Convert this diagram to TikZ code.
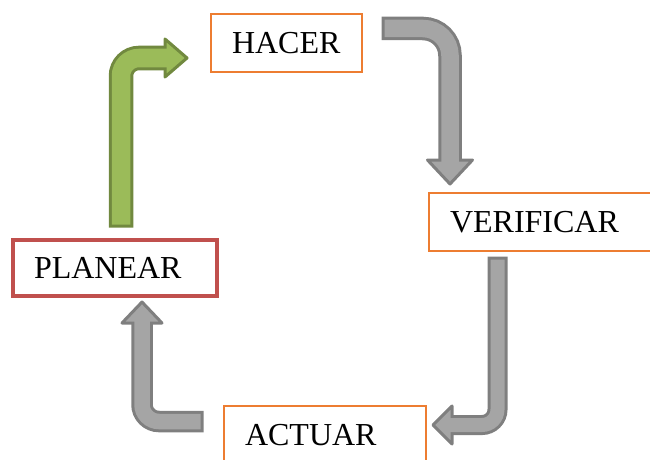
\documentclass[tikz,border=0pt]{standalone}
\usepackage{fontspec}
\setmainfont{Liberation Serif}
\usetikzlibrary{calc}
\definecolor{boxorange}{HTML}{ED7D31}
\definecolor{boxred}{HTML}{C0504D}
\definecolor{arrowfill}{HTML}{A5A5A5}
\definecolor{arrowline}{HTML}{7F7F7F}
\definecolor{greenfill}{HTML}{9BBB59}
\definecolor{greenline}{HTML}{71893F}
\def\bentarrow[#1:#2](#3)(#4)(#5)(#6:#7:#8:#9){%
	\coordinate (cn) at (#4);
	\coordinate (ba) at ($(#5)!#8pt!(cn)$);
	\coordinate (bb) at ($(ba)!2pt!(#5)$);
	\draw[#2, line width=#6pt+3pt, rounded corners=#7pt, shorten <=-1.5pt] (#3) -- (cn) -- (ba);
	\filldraw[fill=#1, draw=#2, line width=3pt, line join=round] ($(ba)!#9pt!90:(#5)$) -- (#5) -- ($(ba)!#9pt!-90:(#5)$) -- cycle;
	\draw[#1, line width=#6pt-3pt, rounded corners=#7pt, shorten <=1.5pt] (#3) -- (cn) -- (bb);
}

\begin{document}
\begin{tikzpicture}[x=1pt, y=-1pt,
	box/.style={draw=boxorange, line width=2pt, fill=white, anchor=north west, outer sep=0pt,
		inner xsep=21pt, inner ysep=0pt, minimum height=58pt, align=left,
		font=\fontsize{32}{38}\selectfont},
	redbox/.style={box, draw=boxred, line width=4pt, minimum height=56pt}]
		%%%%% START %%%%%
		\useasboundingbox (0,0) rectangle (650,460);
		\clip (0,0) rectangle (650,460);
		
		\node[box, text width=109pt] (hacer) at (211, 14) {HACER};
		\node[box, text width=220pt] (verificar) at (429, 193) {VERIFICAR};
		\node[box, text width=160pt] (actuar) at (224, 406) {ACTUAR};
		\node[redbox, text width=162pt] (planear) at (13, 240) {PLANEAR};
		
		\coordinate (g0) at ($(planear.north)+(6,-14)$);
		\coordinate (g2) at ($(hacer.west)+(-24,15)$);
		\coordinate (h0) at ($(hacer.east)+(21,-14.5)$);
		\coordinate (h2) at ($(verificar.north west)+(21,-9)$);
		\coordinate (v0) at ($(verificar.south west)+(68.5,7)$);
		\coordinate (v2) at ($(actuar.north east)+(7,19)$);
		\coordinate (a0) at ($(actuar.north west)+(-22,15.5)$);
		\coordinate (a2) at ($(planear.south)+(27,6)$);
		
		\bentarrow[greenfill:greenline](g0)(g0 |- g2)(g2)(21.5:18:22:19)
		\bentarrow[arrowfill:arrowline](h0)(h2 |- h0)(h2)(20.5:27:24:22.5)
		\bentarrow[arrowfill:arrowline](v0)(v0 |- v2)(v2)(17:15.5:19:19)
		\bentarrow[arrowfill:arrowline](a0)(a2 |- a0)(a2)(18.5:17:21:20)
		
		%%%%% END %%%%%
\end{tikzpicture}
\end{document}
